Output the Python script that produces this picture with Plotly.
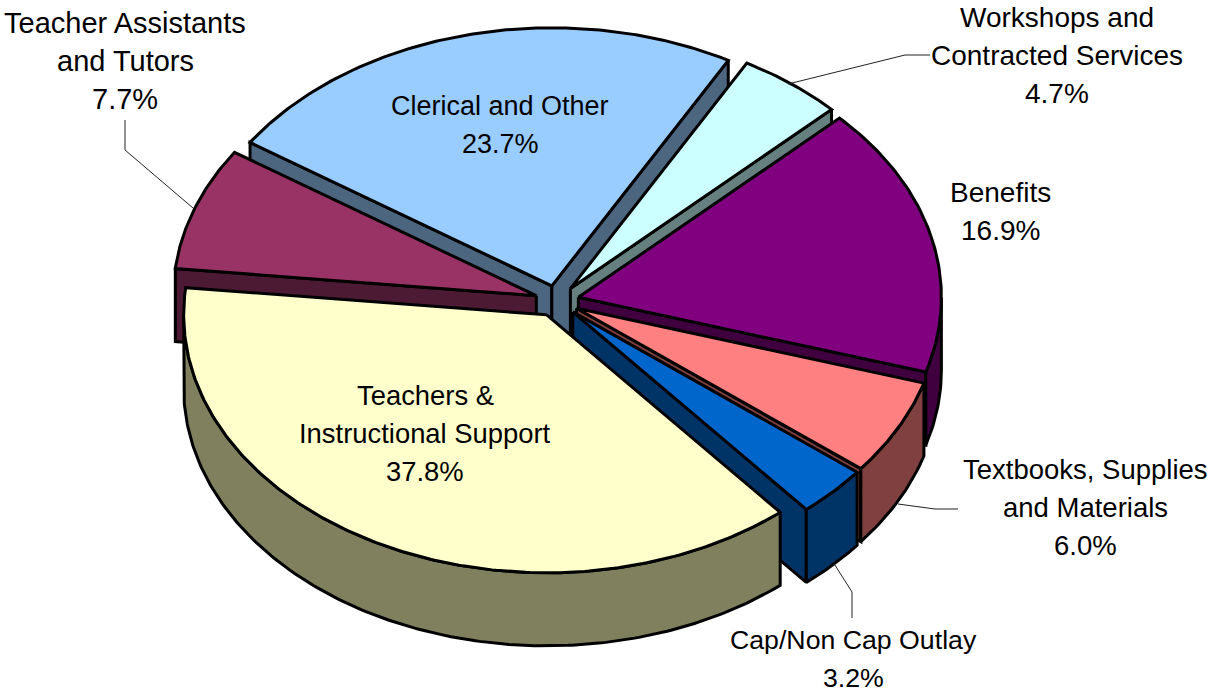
import math
import plotly.graph_objects as go

# Data, clockwise from the Benefits slice
categories = ["Benefits", "Textbooks, Supplies and Materials", "Cap/Non Cap Outlay",
              "Teachers & Instructional Support", "Teacher Assistants and Tutors",
              "Clerical and Other", "Workshops and Contracted Services"]
values = [16.9, 6.0, 3.2, 37.8, 7.7, 23.7, 4.7]
top_colors = ["#800080", "#FF8080", "#0066CC", "#FFFFCC", "#993366", "#99CCFF", "#CCFFFF"]
side_colors = ["#400040", "#804040", "#003366", "#80805F", "#4D1A33", "#4D6680", "#668080"]
label_lines = [["Benefits", "16.9%"], ["Textbooks, Supplies", "and Materials", "6.0%"],
               ["Cap/Non Cap Outlay", "3.2%"], ["Teachers &", "Instructional Support", "37.8%"],
               ["Teacher Assistants", "and Tutors", "7.7%"], ["Clerical and Other", "23.7%"],
               ["Workshops and", "Contracted Services", "4.7%"]]
label_sizes = [28, 27.5, 26.7, 27.4, 29, 27, 28]

# Layout constants (pixel-like plotting space)
W, H = 1211, 695
CX, CY, RX, RY, DEPTH, PULL = 557, 301, 363, 258, 73, 22
START = 46.0
LINE_STEP = 38
label_pos = [(1000, 192), (1085, 469), (853, 640), (425, 395), (125, 23), (500, 106), (1057, 17)]
leaders = [[(125, 120), (125, 150), (193, 208)],
           [(788, 84), (905, 55), (930, 55)],
           [(898, 504), (935, 509), (958, 509)],
           [(833, 562), (852, 592), (852, 618)]]
draw_order = [5, 6, 4, 0, 1, 2, 3]
BLACK = "#000000"


def pt(a, ox, oy, dz=0):
    r = math.radians(a)
    return ox + RX * math.sin(r), oy - RY * math.cos(r) + dz


def arc(a0, a1, ox, oy, dz=0):
    n = max(6, int(abs(a1 - a0) * 1.5))
    return [pt(a0 + (a1 - a0) * i / n, ox, oy, dz) for i in range(n + 1)]


def poly(points, fill, name):
    xs = [p[0] for p in points] + [points[0][0]]
    ys = [p[1] for p in points] + [points[0][1]]
    return go.Scatter(x=xs, y=ys, mode="lines", fill="toself", fillcolor=fill,
                      line=dict(color=BLACK, width=3, shape="linear"),
                      name=name, hoverinfo="name", showlegend=False)


angles, a = [], START
for v in values:
    angles.append((a, a + v * 3.6))
    a += v * 3.6

fig = go.Figure()
for i in draw_order:
    a0, a1 = angles[i]
    mid = math.radians((a0 + a1) / 2)
    ox = CX + PULL * math.sin(mid)
    oy = CY - PULL * math.cos(mid) * RY / RX
    apex, apex_d = (ox, oy), (ox, oy + DEPTH)
    # radial walls, only those that face the viewer
    for e, show in ((a0, math.sin(math.radians(a0)) < 0), (a1, math.sin(math.radians(a1)) > 0)):
        if show:
            p = pt(e, ox, oy)
            fig.add_trace(poly([apex, p, (p[0], p[1] + DEPTH), apex_d], side_colors[i], categories[i]))
    # outer wall, only the part that faces the viewer (angles 90..270)
    w0, w1 = max(a0, 90), min(a1, 270)
    if w1 > w0:
        fig.add_trace(poly(arc(w0, w1, ox, oy) + arc(w1, w0, ox, oy, DEPTH), side_colors[i], categories[i]))
    fig.add_trace(poly([apex] + arc(a0, a1, ox, oy), top_colors[i], categories[i]))

for line in leaders:
    fig.add_trace(go.Scatter(x=[p[0] for p in line], y=[p[1] for p in line], mode="lines",
                             line=dict(color="#222222", width=1), hoverinfo="skip", showlegend=False))

for lines, size, (x, y0) in zip(label_lines, label_sizes, label_pos):
    for k, txt in enumerate(lines):
        fig.add_annotation(x=x, y=y0 + k * LINE_STEP, text=txt, showarrow=False, xanchor="center",
                           yanchor="middle", align="center",
                           font=dict(family="Liberation Sans, Arial", size=size, color="#000000"))

fig.update_layout(width=W, height=H, margin=dict(l=0, r=0, t=0, b=0),
                  paper_bgcolor="white", plot_bgcolor="white", showlegend=False,
                  xaxis=dict(range=[0, W], visible=False, fixedrange=True),
                  yaxis=dict(range=[H, 0], visible=False, fixedrange=True))
fig.write_html("out.html", config={"displayModeBar": False},
               post_script="document.body.style.margin='0';document.body.style.overflow='hidden';")
